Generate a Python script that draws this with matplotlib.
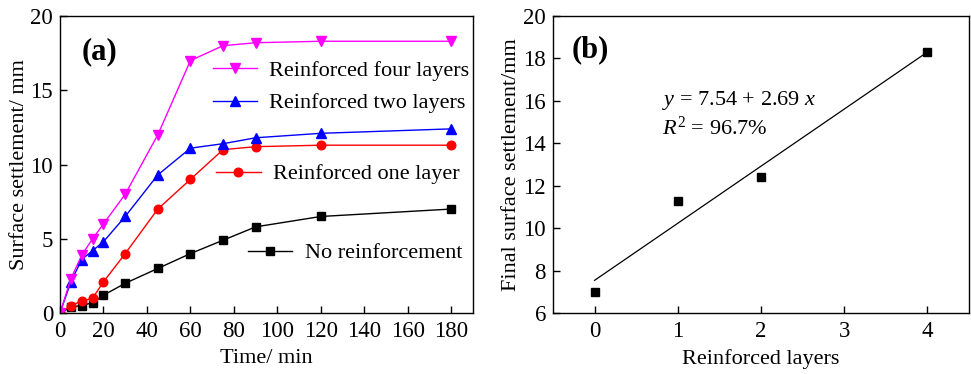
import numpy as np
import matplotlib.pyplot as plt
from matplotlib.legend import Legend

plt.rcParams['font.family'] = ['Liberation Serif', 'DejaVu Serif']
plt.rcParams['mathtext.fontset'] = 'custom'
plt.rcParams['mathtext.rm'] = 'Liberation Serif'
plt.rcParams['mathtext.it'] = 'Liberation Serif:italic'

# panel (a) data
time_min = [0, 5, 10, 15, 20, 30, 45, 60, 75, 90, 120, 180]
no_reinf = [0, 0.4, 0.5, 0.7, 1.2, 2.0, 3.0, 4.0, 4.9, 5.8, 6.5, 7.0]
one_layer = [0, 0.5, 0.8, 1.0, 2.1, 4.0, 7.0, 9.0, 11.0, 11.2, 11.3, 11.3]
two_layers = [0, 2.1, 3.6, 4.2, 4.8, 6.5, 9.3, 11.1, 11.4, 11.8, 12.1, 12.4]
four_layers = [0, 2.3, 3.9, 5.0, 6.0, 8.0, 12.0, 17.0, 18.0, 18.2, 18.3, 18.3]

# panel (b) data
layers = [0, 1, 2, 4]
final_settle = [7.0, 11.3, 12.4, 18.3]
fit_a, fit_b = 7.54, 2.69

fs = 16
tfs = 16.5
fig = plt.figure(figsize=(9.71, 3.74), dpi=100)
ax1 = fig.add_axes([0.0618, 0.1631, 0.4253, 0.7941])
ax2 = fig.add_axes([0.5695, 0.1631, 0.4284, 0.7941])

series = [
    (four_layers, 'magenta', 'v', 'Reinforced four layers', 7),
    (two_layers, 'blue', '^', 'Reinforced two layers', 7),
    (one_layer, 'red', 'o', 'Reinforced one layer', 6.2),
    (no_reinf, 'black', 's', 'No reinforcement', 5.2),
]
handles = []
for ys, c, m, lab, ms in series[::-1]:
    h, = ax1.plot(time_min, ys, color=c, marker=m, markersize=ms, lw=1, label=lab)
    handles.append(h)
handles = handles[::-1]

# legend entries are placed one by one, as in the original figure
leg_pos = [(0.370, 0.815), (0.370, 0.707), (0.378, 0.468), (0.455, 0.202)]
for h, (xx, yy) in zip(handles, leg_pos):
    lg = Legend(ax1, [h], [h.get_label()], loc='center left', bbox_to_anchor=(xx, yy),
                frameon=False, fontsize=fs, handlelength=2.0, handletextpad=0.55,
                borderpad=0, borderaxespad=0)
    ax1.add_artist(lg)

ax1.set_xlim(0, 190)
ax1.set_ylim(0, 20)
ax1.set_xticks(np.arange(0, 181, 20))
ax1.set_yticks([0, 5, 10, 15, 20])
ax1.set_xlabel('Time/ min', fontsize=fs, labelpad=5)
ax1.set_ylabel('Surface settlement/ mm', fontsize=fs, labelpad=1)
ax1.text(0.053, 0.879, '(a)', transform=ax1.transAxes, fontsize=22, fontweight='bold',
         va='center', ha='left')

ax2.plot(layers, final_settle, 's', color='black', markersize=5.5)
xf = np.array([0, 4])
ax2.plot(xf, fit_a + fit_b * xf, color='black', lw=0.9)
ax2.set_xlim(-0.5, 4.5)
ax2.set_ylim(6, 20)
ax2.set_xticks([0, 1, 2, 3, 4])
ax2.set_yticks(np.arange(6, 21, 2))
ax2.set_xlabel('Reinforced layers', fontsize=fs, labelpad=5)
ax2.set_ylabel('Final surface settlement/mm', fontsize=fs, labelpad=2)
ax2.text(0.046, 0.886, '(b)', transform=ax2.transAxes, fontsize=22, fontweight='bold',
         va='center', ha='left')
ax2.text(0.262, 0.717, r'$y$ = %.2f + %.2f $x$' % (fit_a, fit_b), transform=ax2.transAxes,
         fontsize=fs, va='center', ha='left')
ax2.text(0.262, 0.623, r'$R^2$ = 96.7%', transform=ax2.transAxes,
         fontsize=fs, va='center', ha='left')

for ax in (ax1, ax2):
    ax.tick_params(direction='in', labelsize=tfs, length=5, width=1, top=False, right=False)
    ax.tick_params(axis='x', pad=6)
    ax.tick_params(axis='y', pad=5)
    for s in ax.spines.values():
        s.set_linewidth(1.0)

fig.savefig('out.png', dpi=100)
